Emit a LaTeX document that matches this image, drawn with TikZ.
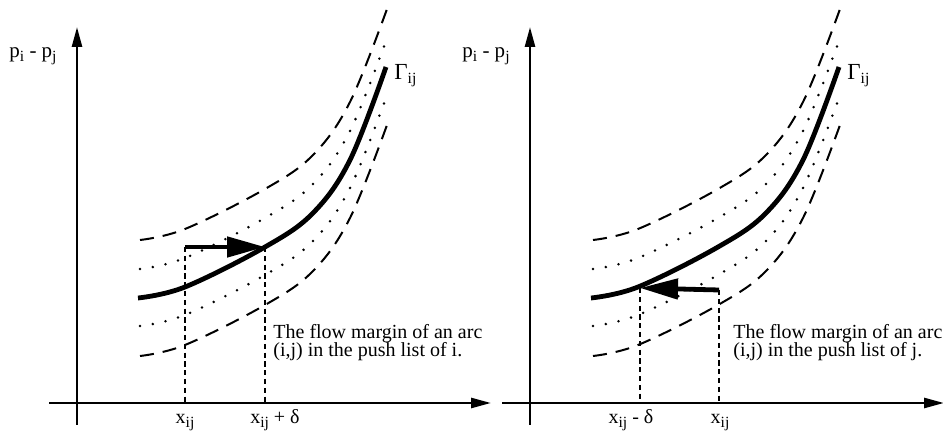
\documentclass[tikz,border=0pt]{standalone}
\usepackage{fontspec}
\setmainfont{Liberation Serif}
\usetikzlibrary{arrows.meta,positioning}
\newcommand{\lowidx}[1]{\raisebox{-0.4ex}{\fontsize{7.8}{8}\selectfont #1}}

\begin{document}
\begin{tikzpicture}[
    x=0.5pt, y=-0.5pt,
    axis/.style={line width=1.3pt, -{Triangle[length=10pt,width=5pt]}},
    gammaline/.style={line width=2.4pt},
    outerband/.style={line width=1pt, dash pattern=on 7pt off 4.5pt},
    innerband/.style={line width=1.4pt, line cap=round, dash pattern=on 0pt off 6.5pt},
    guide/.style={line width=0.7pt, dash pattern=on 2.6pt off 1.8pt},
    push/.style={line width=2.4pt, -{Triangle[length=19pt,width=10pt]}},
    lbl/.style={inner sep=0pt, font=\fontsize{10}{9.2}\selectfont}
]
\useasboundingbox (0,0) rectangle (943,437);

% both panels share axes, curve and its margins
\foreach \side/\dx in {L/0, R/453} {
  \begin{scope}[shift={(\dx,0)}]
    \coordinate (\side-xs) at (49,403);
    \coordinate (\side-xe) at (491,403);
    \coordinate (\side-ys) at (77,425);
    \coordinate (\side-ye) at (77,27);
    \draw[axis] (\side-xs) -- (\side-xe);
    \draw[axis] (\side-ys) -- (\side-ye);
    \node[lbl, font=\fontsize{10.5}{10}\selectfont] (\side-price) at (33,56) {p\lowidx{i} - p\lowidx{j}};

    \draw[outerband, yshift=29pt] plot[smooth, tension=0.6] coordinates {(140,298) (185,287) (265,247) (313,213) (350,160) (387,67)};
    \draw[innerband, yshift=14.5pt] plot[smooth, tension=0.6] coordinates {(140,298) (185,287) (265,247) (313,213) (350,160) (387,67)};
    \draw[gammaline] plot[smooth, tension=0.6] coordinates {(138,298) (185,287) (265,247) (313,213) (350,160) (386,67)};
    \draw[innerband, yshift=-14pt] plot[smooth, tension=0.6] coordinates {(140,298) (185,287) (265,247) (313,213) (350,160) (387,67)};
    \draw[outerband, yshift=-29pt] plot[smooth, tension=0.6] coordinates {(140,298) (185,287) (265,247) (313,213) (350,160) (387,67)};

    \node[lbl, anchor=north west, font=\fontsize{11.5}{11}\selectfont] (\side-gamma) at (394,64) {Γ\lowidx{ij}};
  \end{scope}
}

% left panel: push list of i
\coordinate (L-from) at (185,247);
\coordinate (L-to) at (265,247);
\coordinate (L-a) at (185,403);
\coordinate (L-b) at (265,403);
\draw[guide] (L-from) -- (L-a);
\draw[guide] (L-to) -- (L-b);
\draw[push] (L-from) -- (L-to);
\node[lbl, anchor=base] (L-xij) at (185,424) {x\lowidx{ij}};
\node[lbl, anchor=base] (L-xd) at (275,424) {x\lowidx{ij} + δ};
\node[lbl, anchor=base west, align=left] (L-note) at (273,357) {The flow margin of an arc\\(i,j) in the push list of i.};

% right panel: push list of j
\coordinate (R-from) at (719,290);
\coordinate (R-to) at (640,288);
\coordinate (R-a) at (719,403);
\coordinate (R-b) at (640,403);
\draw[guide] (R-from) -- (R-a);
\draw[guide] (R-to) -- (R-b);
\draw[push] (R-from) -- (R-to);
\node[lbl, anchor=base] (R-xd) at (631,424) {x\lowidx{ij} - δ};
\node[lbl, anchor=base] (R-xij) at (720,424) {x\lowidx{ij}};
\node[lbl, anchor=base west, align=left] (R-note) at (733,357) {The flow margin of an arc\\(i,j) in the push list of j.};
\end{tikzpicture}
\end{document}
